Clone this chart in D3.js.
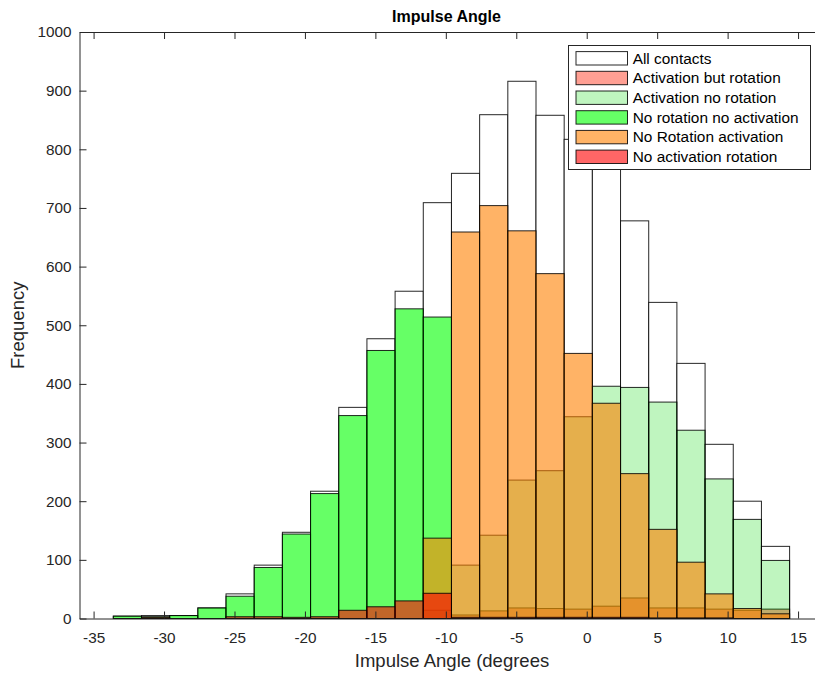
<!DOCTYPE html>
<html>
<head>
<meta charset="utf-8">
<script src="https://cdn.jsdelivr.net/npm/d3@7"></script>
<style>
  body { margin: 0; background: #fff; }
  text { font-family: "Liberation Sans", Arial, Helvetica, sans-serif; }
</style>
</head>
<body>
<svg id="chart" width="815" height="673"></svg>
<script>
// Histogram bins: 24 bins of 2 degrees starting at -33.6
const binStart = -33.6;
const binWidth = 2;

// Counts per bin for each group of contacts
const allContacts          = [4, 5, 5, 18, 42, 91, 147, 217, 360, 477, 558, 709, 759, 859, 916, 858, 817, 786, 678, 539, 435, 297, 200, 123];
const activationRotation   = [0, 0, 0, 0, 0, 0, 0, 0, 0, 0, 0, 0, 6, 13, 18, 17, 16, 21, 35, 18, 18, 16, 14, 16];
const activationNoRotation = [0, 0, 0, 0, 0, 0, 0, 0, 0, 0, 0, 14, 91, 142, 236, 252, 344, 396, 394, 369, 321, 238, 169, 99];
const noRotationNoActivation = [4, 3, 5, 18, 38, 87, 144, 213, 346, 457, 528, 514, 0, 0, 0, 0, 0, 0, 0, 0, 0, 0, 0, 0];
const noRotationActivation = [0, 0, 0, 0, 0, 0, 0, 0, 0, 0, 0, 137, 659, 704, 661, 588, 452, 367, 247, 152, 96, 42, 17, 8];
const noActivationRotation = [0, 2, 0, 0, 3, 3, 2, 3, 14, 20, 30, 43, 2, 2, 2, 2, 2, 2, 2, 1, 1, 1, 0, 0];

const seriesNames = ["All contacts", "Activation but rotation", "Activation no rotation",
                     "No rotation no activation", "No Rotation activation", "No activation rotation"];

const xTicks = [-35, -30, -25, -20, -15, -10, -5, 0, 5, 10, 15];
const yTicks = [0, 100, 200, 300, 400, 500, 600, 700, 800, 900, 1000];

// Drawing order, fill colour and face alpha for each group
const series = [
  { name: seriesNames[0], values: allContacts,            color: "#ffffff",          alpha: 1 },
  { name: seriesNames[1], values: activationRotation,     color: "rgb(255,95,75)",   alpha: 0.6 },
  { name: seriesNames[2], values: activationNoRotation,   color: "rgb(0,215,0)",     alpha: 0.25 },
  { name: seriesNames[3], values: noRotationNoActivation, color: "rgb(0,255,0)",     alpha: 0.6 },
  { name: seriesNames[4], values: noRotationActivation,   color: "rgb(255,128,0)",   alpha: 0.6 },
  { name: seriesNames[5], values: noActivationRotation,   color: "rgb(255,0,0)",     alpha: 0.6 }
];

const svg = d3.select("#chart");
const axisColor = "#262626";

const x = d3.scaleLinear().domain([-36, 16.5]).range([79.5, 819.2]);
const y = d3.scaleLinear().domain([0, 1000]).range([618.5, 32]);

// Bars
const plot = svg.append("g");
series.forEach(s => {
  const bins = s.values.map((v, i) => ({ x0: binStart + i * binWidth, x1: binStart + (i + 1) * binWidth, v }))
                       .filter(d => d.v > 0);
  plot.append("g")
    .selectAll("rect")
    .data(bins)
    .join("rect")
      .attr("x", d => x(d.x0))
      .attr("width", d => x(d.x1) - x(d.x0))
      .attr("y", d => y(d.v))
      .attr("height", d => y(0) - y(d.v))
      .attr("fill", s.color)
      .attr("fill-opacity", s.alpha)
      .attr("stroke", "#000")
      .attr("stroke-opacity", 0.85)
      .attr("stroke-width", 1);
});

// Axes (inward ticks, box-style top edge)
const fmt = d => String(d);
const gx = svg.append("g")
  .attr("transform", `translate(0,${y(0)})`)
  .call(d3.axisBottom(x).tickValues(xTicks).tickFormat(fmt).tickSizeInner(-7).tickSizeOuter(0).tickPadding(14));
const gxTop = svg.append("g")
  .attr("transform", `translate(0,${y(1000)})`)
  .call(d3.axisTop(x).tickValues(xTicks).tickFormat("").tickSizeInner(-7).tickSizeOuter(0));
const gy = svg.append("g")
  .attr("transform", `translate(${x(-36)},0)`)
  .call(d3.axisLeft(y).tickValues(yTicks).tickFormat(fmt).tickSizeInner(-7).tickSizeOuter(0).tickPadding(8));

[gx, gxTop, gy].forEach(g => {
  g.select(".domain").attr("stroke", axisColor);
  g.selectAll(".tick line").attr("stroke", axisColor);
  g.selectAll(".tick text")
    .attr("fill", axisColor)
    .style("font-size", "15.3px")
    .style("font-family", "'Liberation Sans', Arial, Helvetica, sans-serif");
});

// Title and axis labels
svg.append("text")
  .attr("x", 446.5).attr("y", 22)
  .attr("text-anchor", "middle")
  .style("font-size", "16px").style("font-weight", "bold")
  .attr("fill", "#000")
  .text("Impulse Angle");

svg.append("text")
  .attr("x", 452).attr("y", 667)
  .attr("text-anchor", "middle")
  .style("font-size", "18.5px")
  .attr("fill", axisColor)
  .text("Impulse Angle (degrees");

svg.append("text")
  .attr("transform", `translate(24,${(y(0) + y(1000)) / 2}) rotate(-90)`)
  .attr("text-anchor", "middle")
  .style("font-size", "18.5px")
  .attr("fill", axisColor)
  .text("Frequency");

// Legend
const legend = svg.append("g");
legend.append("rect")
  .attr("x", 568.5).attr("y", 45.5).attr("width", 242).attr("height", 124)
  .attr("fill", "#fff").attr("stroke", axisColor).attr("stroke-width", 1);

const rowTop = 58.3, rowStep = 19.7;
series.forEach((s, i) => {
  const cy = rowTop + i * rowStep;
  legend.append("rect")
    .attr("x", 576).attr("y", cy - 6.7).attr("width", 51.5).attr("height", 13.4)
    .attr("fill", s.color).attr("fill-opacity", s.alpha)
    .attr("stroke", "#000").attr("stroke-opacity", 0.85).attr("stroke-width", 1);
  legend.append("text")
    .attr("x", 632.7).attr("y", cy + 5.3)
    .style("font-size", "15.4px")
    .attr("fill", "#000")
    .text(s.name);
});
</script>
</body>
</html>
